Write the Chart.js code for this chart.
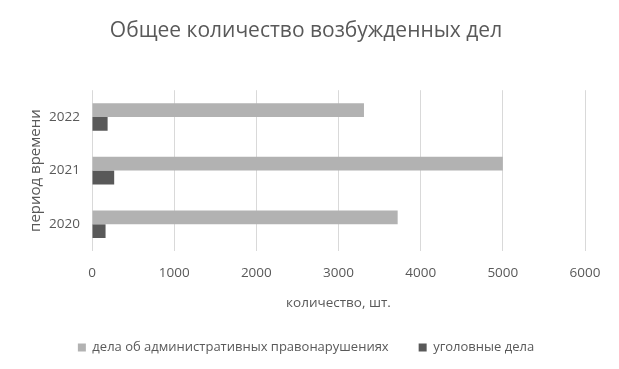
<!DOCTYPE html>
<html>
<head>
<meta charset="utf-8">
<script src="https://cdn.jsdelivr.net/npm/chart.js@4"></script>
<style>
  html, body { margin: 0; padding: 0; background: #fff; }
  #wrap { width: 619px; height: 369px; position: relative; }
</style>
</head>
<body>
<div id="wrap"><canvas id="chart"></canvas></div>
<script>
// данные
var years = ['2022', '2021', '2020'];
var adminCases = [3310, 5000, 3720];
var criminalCases = [190, 270, 165];
var seriesNames = ['дела об административных правонарушениях', 'уголовные дела'];

var textColor = '#595959';
var fontFamily = '"Open Sans", "Noto Sans", sans-serif';

var ctx = document.getElementById('chart');
new Chart(ctx, {
  type: 'bar',
  data: {
    labels: years,
    datasets: [{
      label: seriesNames[0],
      data: adminCases,
      backgroundColor: '#b2b2b2',
      categoryPercentage: 0.515,
      barPercentage: 1
    }, {
      label: seriesNames[1],
      data: criminalCases,
      backgroundColor: '#595959',
      categoryPercentage: 0.515,
      barPercentage: 1
    }]
  },
  options: {
    indexAxis: 'y',
    responsive: true,
    maintainAspectRatio: false,
    animation: false,
    layout: { padding: { left: 27, right: 34, top: 0, bottom: 5 } },
    plugins: {
      title: {
        display: true,
        text: 'Общее количество возбужденных дел',
        color: textColor,
        font: { family: fontFamily, size: 21, weight: 'normal' },
        padding: { top: 18, bottom: 47 }
      },
      legend: {
        position: 'bottom',
        labels: {
          color: textColor,
          font: { family: fontFamily, size: 13 },
          boxWidth: 8,
          boxHeight: 8,
          padding: 30
        }
      },
      tooltip: { enabled: false }
    },
    scales: {
      x: {
        min: 0,
        max: 6000,
        ticks: {
          stepSize: 1000,
          color: textColor,
          font: { family: fontFamily, size: 13.5 },
          padding: 14,
          callback: function(v) { return String(v); }
        },
        grid: { color: '#d9d9d9', drawTicks: false },
        border: { display: false },
        title: {
          display: true,
          text: 'количество, шт.',
          color: textColor,
          font: { family: fontFamily, size: 13.5 },
          padding: { top: 1, bottom: 0 }
        },
        afterFit: function(scale) { scale.height = 60; }
      },
      y: {
        ticks: { color: textColor, font: { family: fontFamily, size: 13.5 }, padding: 12 },
        grid: { display: false, drawTicks: false },
        border: { display: false },
        title: {
          display: true,
          text: 'период времени',
          color: textColor,
          font: { family: fontFamily, size: 15 },
          padding: { top: 0, bottom: 4 }
        },
        afterFit: function(scale) { scale.width = 65; }
      }
    }
  }
});
</script>
</body>
</html>
